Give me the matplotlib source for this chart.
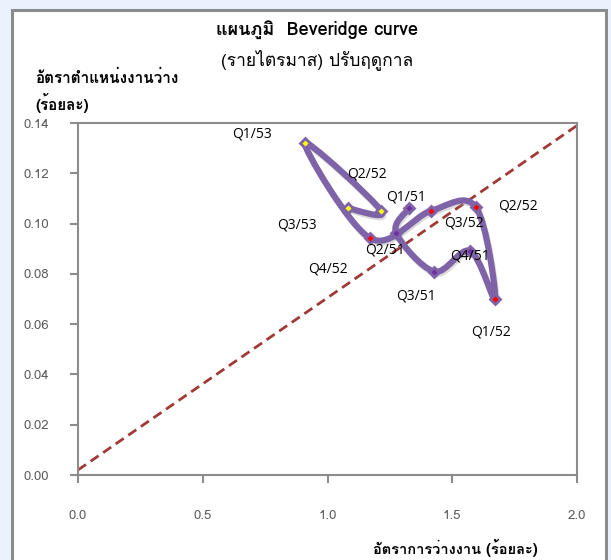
import matplotlib
matplotlib.use('Agg')
import matplotlib.pyplot as plt
import matplotlib.patheffects as pe
from matplotlib import font_manager
from matplotlib.ft2font import FT2Font
from matplotlib.path import Path
from matplotlib.patches import PathPatch, Rectangle
import numpy as np

# quarterly points (unemployment rate %, vacancy rate %)
quarters = ['Q1/51', 'Q2/51', 'Q3/51', 'Q4/51',
            'Q1/52', 'Q2/52', 'Q3/52', 'Q4/52',
            'Q1/53', 'Q2/53', 'Q3/53']
unemployment = [1.327, 1.275, 1.428, 1.572, 1.672, 1.595, 1.415, 1.172, 0.908, 1.215, 1.081]
vacancy = [0.1061, 0.0964, 0.0809, 0.0891, 0.0699, 0.1065, 0.1051, 0.0941, 0.1322, 0.1051, 0.1061]
point_labels = ['Q1/51', 'Q2/51', 'Q3/51', 'Q4/51',
                'Q1/52', 'Q2/52', 'Q3/52', 'Q4/52',
                'Q1/53', 'Q2/52', 'Q3/53']
point_colors = ['#7030A0'] * 4 + ['#FF0000'] * 4 + ['#FFFF00'] * 3

# dashed reference line
ref_x = [0.0, 2.0]
ref_intercept = 0.002
ref_slope = 0.0685

x_ticks = [0.0, 0.5, 1.0, 1.5, 2.0]
y_ticks = [0.00, 0.02, 0.04, 0.06, 0.08, 0.10, 0.12, 0.14]

# label offsets in pixels
label_offsets = [(-3, 11), (-11, -17), (-18, -24), (0, -5),
                 (-4, -33), (42, 1), (33, -12), (-42, -31),
                 (-53, 9), (-14, 37), (-51, -17)]


def find_thai_font():
    for f in font_manager.fontManager.ttflist:
        try:
            cmap = FT2Font(f.fname).get_charmap()
        except Exception:
            continue
        if 0x0E2D in cmap and 0x0E31 in cmap:
            return f.name
    return None


thai = find_thai_font()
fams = ([thai] if thai else []) + ['Liberation Sans', 'DejaVu Sans']
plt.rcParams['font.family'] = fams

fig = plt.figure(figsize=(6.11, 5.6), dpi=100)
fig.patch.set_facecolor('#EAF3FD')
# white chart area with gray frame
fig.patches.append(Rectangle((12 / 611, -0.05), (606 - 12) / 611, 1.05 - 10 / 560,
                             transform=fig.transFigure, facecolor='white',
                             edgecolor='#8C8C8C', linewidth=2.2, zorder=-5))

ax = fig.add_axes([78 / 611, 1 - 475 / 560, (577 - 78) / 611, (475 - 123) / 560])
ax.set_zorder(1)
ax.set_facecolor('white')
ax.set_xlim(0, 2.0)
ax.set_ylim(0, 0.14)

# reference line
ref_y = [ref_intercept + ref_slope * v for v in ref_x]
ax.plot(ref_x, ref_y, color='#A03A36', lw=2, ls=(0, (3.5, 2)), zorder=2)

# smoothed line through the points (Catmull-Rom style bezier)
pts = np.column_stack([unemployment, vacancy])
n = len(pts)
verts = [pts[0]]
codes = [Path.MOVETO]
for i in range(n - 1):
    p0 = pts[i - 1] if i > 0 else pts[i]
    p1 = pts[i]
    p2 = pts[i + 1]
    p3 = pts[i + 2] if i + 2 < n else pts[i + 1]
    c1 = p1 + (p2 - p0) / 6
    c2 = p2 - (p3 - p1) / 6
    verts += [c1, c2, p2]
    codes += [Path.CURVE4] * 3
curve = PathPatch(Path(verts, codes), facecolor='none', edgecolor='#7F63A8',
                  lw=4.5, capstyle='round', joinstyle='round', zorder=3,
                  path_effects=[pe.SimpleLineShadow(offset=(0.8, -1.5), shadow_color='#999999', alpha=0.35),
                                pe.Normal()])
ax.add_patch(curve)

for xv, yv, c in zip(unemployment, vacancy, point_colors):
    ax.plot(xv, yv, marker='D', ms=5.5, mfc=c, mec='#7F63A8', mew=2, zorder=4)

for xv, yv, lab, off in zip(unemployment, vacancy, point_labels, label_offsets):
    ax.annotate(lab, (xv, yv), xytext=off, textcoords='offset pixels',
                ha='center', va='center', fontsize=10, color='black',
                family=['Open Sans'] + fams, zorder=5)

for s in ax.spines.values():
    s.set_color('#8C8C8C')
    s.set_linewidth(1.5)
ax.set_xticks(x_ticks)
ax.set_yticks(y_ticks)
ax.set_xticklabels([f'{v:.1f}' for v in x_ticks])
ax.set_yticklabels([f'{v:.2f}' for v in y_ticks])
ax.tick_params(axis='x', direction='out', length=6, width=1.5, color='#8C8C8C',
               labelcolor='#595959', labelsize=9.5, pad=19)
ax.tick_params(axis='y', direction='out', length=6, width=1.5, color='#8C8C8C',
               labelcolor='#595959', labelsize=9.5, pad=15)

fig.text(317 / 611, 1 - 30 / 560, 'แผนภูมิ  Beveridge curve', ha='center', va='center',
         fontsize=13, fontweight='bold')
fig.text(317 / 611, 1 - 60 / 560, '(รายไตรมาส) ปรับฤดูกาล', ha='center', va='center',
         fontsize=12.5)
fig.text(35 / 611, 1 - 78 / 560, 'อัตราตำแหน่งงานว่าง', ha='left', va='center',
         fontsize=11, fontweight='bold')
fig.text(35 / 611, 1 - 103 / 560, '(ร้อยละ)', ha='left', va='center',
         fontsize=11, fontweight='bold')
fig.text(455 / 611, 1 - 548 / 560, 'อัตราการว่างงาน (ร้อยละ)', ha='center', va='center',
         fontsize=10.5, fontweight='bold')

fig.savefig('out.png', dpi=100, facecolor=fig.get_facecolor())
